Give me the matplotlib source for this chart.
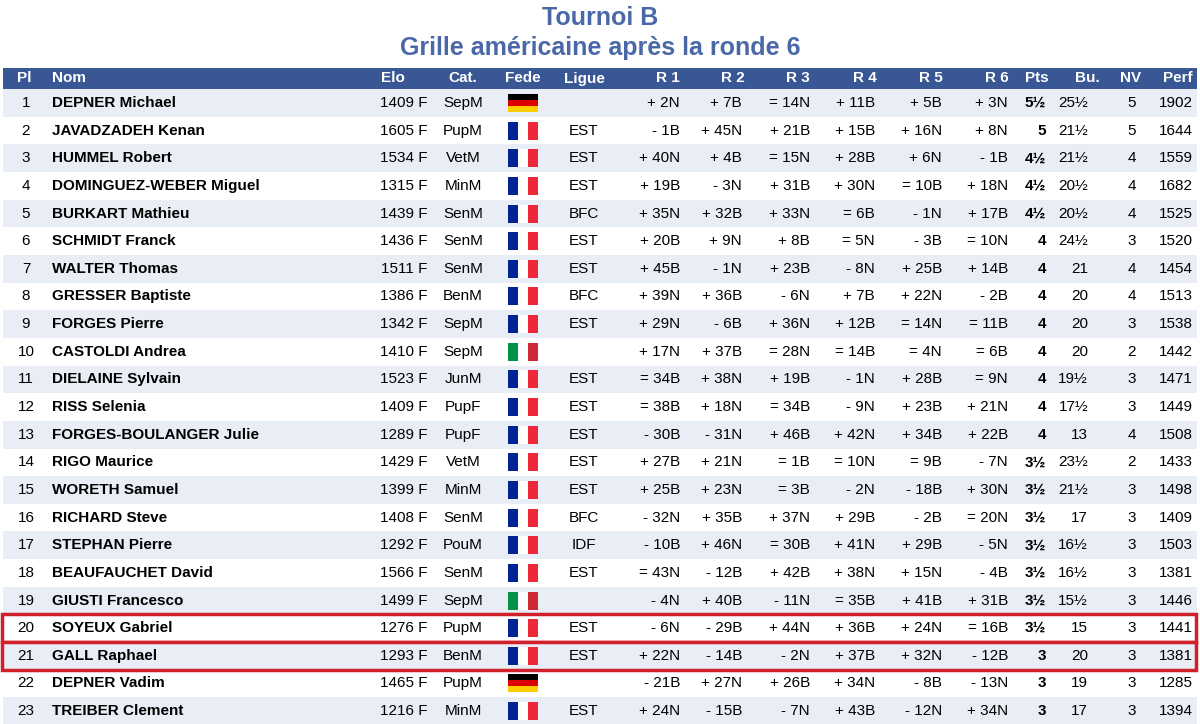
import matplotlib
matplotlib.use("Agg")
import matplotlib.pyplot as plt
from matplotlib.patches import Rectangle

plt.rcParams['font.family'] = ['Liberation Sans', 'DejaVu Sans']

title1 = "Tournoi B"
title2 = "Grille américaine après la ronde 6"
headers = ["Pl", "Nom", "Elo", "Cat.", "Fede", "Ligue", "R 1", "R 2", "R 3", "R 4", "R 5", "R 6", "Pts", "Bu.", "NV", "Perf"]
places = list(range(1, 24))
names = ["DEPNER Michael", "JAVADZADEH Kenan", "HUMMEL Robert", "DOMINGUEZ-WEBER Miguel", "BURKART Mathieu",
         "SCHMIDT Franck", "WALTER Thomas", "GRESSER Baptiste", "FORGES Pierre", "CASTOLDI Andrea",
         "DIELAINE Sylvain", "RISS Selenia", "FORGES-BOULANGER Julie", "RIGO Maurice", "WORETH Samuel",
         "RICHARD Steve", "STEPHAN Pierre", "BEAUFAUCHET David", "GIUSTI Francesco", "SOYEUX Gabriel",
         "GALL Raphael", "DEPNER Vadim", "TREIBER Clement"]
elos = ["1409 F", "1605 F", "1534 F", "1315 F", "1439 F", "1436 F", "1511 F", "1386 F", "1342 F", "1410 F",
        "1523 F", "1409 F", "1289 F", "1429 F", "1399 F", "1408 F", "1292 F", "1566 F", "1499 F", "1276 F",
        "1293 F", "1465 F", "1216 F"]
cats = ["SepM", "PupM", "VetM", "MinM", "SenM", "SenM", "SenM", "BenM", "SepM", "SepM", "JunM", "PupF", "PupF",
        "VetM", "MinM", "SenM", "PouM", "SenM", "SepM", "PupM", "BenM", "PupM", "MinM"]
fedes = ["GER", "FRA", "FRA", "FRA", "FRA", "FRA", "FRA", "FRA", "FRA", "ITA", "FRA", "FRA", "FRA", "FRA",
         "FRA", "FRA", "FRA", "FRA", "ITA", "FRA", "FRA", "GER", "FRA"]
ligues = ["", "EST", "EST", "EST", "BFC", "EST", "EST", "BFC", "EST", "", "EST", "EST", "EST", "EST", "EST",
          "BFC", "IDF", "EST", "", "EST", "EST", "", "EST"]
r1 = ["+ 2N", "- 1B", "+ 40N", "+ 19B", "+ 35N", "+ 20B", "+ 45B", "+ 39N", "+ 29N", "+ 17N", "= 34B", "= 38B",
      "- 30B", "+ 27B", "+ 25B", "- 32N", "- 10B", "= 43N", "- 4N", "- 6N", "+ 22N", "- 21B", "+ 24N"]
r2 = ["+ 7B", "+ 45N", "+ 4B", "- 3N", "+ 32B", "+ 9N", "- 1N", "+ 36B", "- 6B", "+ 37B", "+ 38N", "+ 18N",
      "- 31N", "+ 21N", "+ 23N", "+ 35B", "+ 46N", "- 12B", "+ 40B", "- 29B", "- 14B", "+ 27N", "- 15B"]
r3 = ["= 14N", "+ 21B", "= 15N", "+ 31B", "+ 33N", "+ 8B", "+ 23B", "- 6N", "+ 36N", "= 28N", "+ 19B", "= 34B",
      "+ 46B", "= 1B", "= 3B", "+ 37N", "= 30B", "+ 42B", "- 11N", "+ 44N", "- 2N", "+ 26B", "- 7N"]
r4 = ["+ 11B", "+ 15B", "+ 28B", "+ 30N", "= 6B", "= 5N", "- 8N", "+ 7B", "+ 12B", "= 14B", "- 1N", "- 9N",
      "+ 42N", "= 10N", "- 2N", "+ 29B", "+ 41N", "+ 38N", "= 35B", "+ 36B", "+ 37B", "+ 34N", "+ 43B"]
r5 = ["+ 5B", "+ 16N", "+ 6N", "= 10B", "- 1N", "- 3B", "+ 25B", "+ 22N", "= 14N", "= 4N", "+ 28B", "+ 23B",
      "+ 34B", "= 9B", "- 18B", "- 2B", "+ 29B", "+ 15N", "+ 41B", "+ 24N", "+ 32N", "- 8B", "- 12N"]
r6 = ["+ 3N", "+ 8N", "- 1B", "+ 18N", "+ 17B", "= 10N", "+ 14B", "- 2B", "= 11B", "= 6B", "= 9N", "+ 21N",
      "+ 22B", "- 7N", "+ 30N", "= 20N", "- 5N", "- 4B", "+ 31B", "= 16B", "- 12B", "- 13N", "+ 34N"]
pts = ["5½", "5", "4½", "4½", "4½", "4", "4", "4", "4", "4", "4", "4", "4", "3½", "3½", "3½", "3½", "3½", "3½",
       "3½", "3", "3", "3"]
bu = ["25½", "21½", "21½", "20½", "20½", "24½", "21", "20", "20", "20", "19½", "17½", "13", "23½", "21½", "17",
      "16½", "16½", "15½", "15", "20", "19", "17"]
nv = ["5", "5", "4", "4", "4", "3", "4", "4", "3", "2", "3", "3", "4", "2", "3", "3", "3", "3", "3", "3", "3", "3", "3"]
perf = ["1902", "1644", "1559", "1682", "1525", "1520", "1454", "1513", "1538", "1442", "1471", "1449", "1508",
        "1433", "1498", "1409", "1503", "1381", "1446", "1441", "1381", "1285", "1394"]
highlight = [20, 21]

fig = plt.figure(figsize=(12, 7.24), dpi=100)
ax = fig.add_axes([0, 0, 1, 1])
ax.set_xlim(0, 1200)
ax.set_ylim(724, 0)
ax.axis('off')

blue = '#3a5795'
ax.text(600, 18, title1, ha='center', va='center', fontsize=18, fontweight='bold', color='#4a68a8')
ax.text(600, 48, title2, ha='center', va='center', fontsize=18, fontweight='bold', color='#4a68a8')

ax.add_patch(Rectangle((3, 68), 1194, 21, color=blue, lw=0))
hx = [(24, 'center'), (52, 'left'), (393, 'center'), (463, 'center'), (523, 'center'), (584, 'center'),
      (680, 'right'), (745, 'right'), (810, 'right'), (877, 'right'), (943, 'right'), (1009, 'right'),
      (1037, 'center'), (1087, 'center'), (1131, 'center'), (1193, 'right')]
for h, (x, a) in zip(headers, hx):
    ax.text(x, 78.5, h, ha=a, va='center', fontsize=11, fontweight='bold', color='white')

y0, dy = 103, 27.64
for i in range(len(places)):
    y = y0 + i * dy
    if i % 2 == 0:
        ax.add_patch(Rectangle((3, y - dy / 2), 1194, dy, color='#e9eef6', lw=0))
    fs = 11
    ax.text(26, y, str(places[i]), ha='center', va='center', fontsize=fs)
    ax.text(52, y, names[i], ha='left', va='center', fontsize=fs, fontweight='bold')
    ax.text(427, y, elos[i], ha='right', va='center', fontsize=fs)
    ax.text(463, y, cats[i], ha='center', va='center', fontsize=fs)
    ax.text(584, y, ligues[i], ha='center', va='center', fontsize=fs)
    for x, col in zip([680, 742, 810, 875, 942, 1008], [r1, r2, r3, r4, r5, r6]):
        ax.text(x, y, col[i], ha='right', va='center', fontsize=fs)
    ax.text(1046, y, pts[i], ha='right', va='center', fontsize=fs, fontweight='bold')
    ax.text(1088, y, bu[i], ha='right', va='center', fontsize=fs)
    ax.text(1132, y, nv[i], ha='center', va='center', fontsize=fs)
    ax.text(1193, y, perf[i], ha='right', va='center', fontsize=fs)
    fx, fw, fh = 508, 30, 18
    ft = y - fh / 2
    if fedes[i] == 'GER':
        for k, c in enumerate(['#000000', '#dd0000', '#ffce00']):
            ax.add_patch(Rectangle((fx, ft + k * fh / 3), fw, fh / 3, color=c, lw=0))
    else:
        cs = ['#002395', '#ffffff', '#ed2939'] if fedes[i] == 'FRA' else ['#009246', '#ffffff', '#ce2b37']
        for k, c in enumerate(cs):
            ax.add_patch(Rectangle((fx + k * fw / 3, ft), fw / 3, fh, color=c, lw=0))
    if places[i] in highlight:
        ax.add_patch(Rectangle((2, y - dy / 2), 1194, dy, fill=False, ec='#d0202a', lw=2.5))

fig.savefig('out.png', dpi=100)
